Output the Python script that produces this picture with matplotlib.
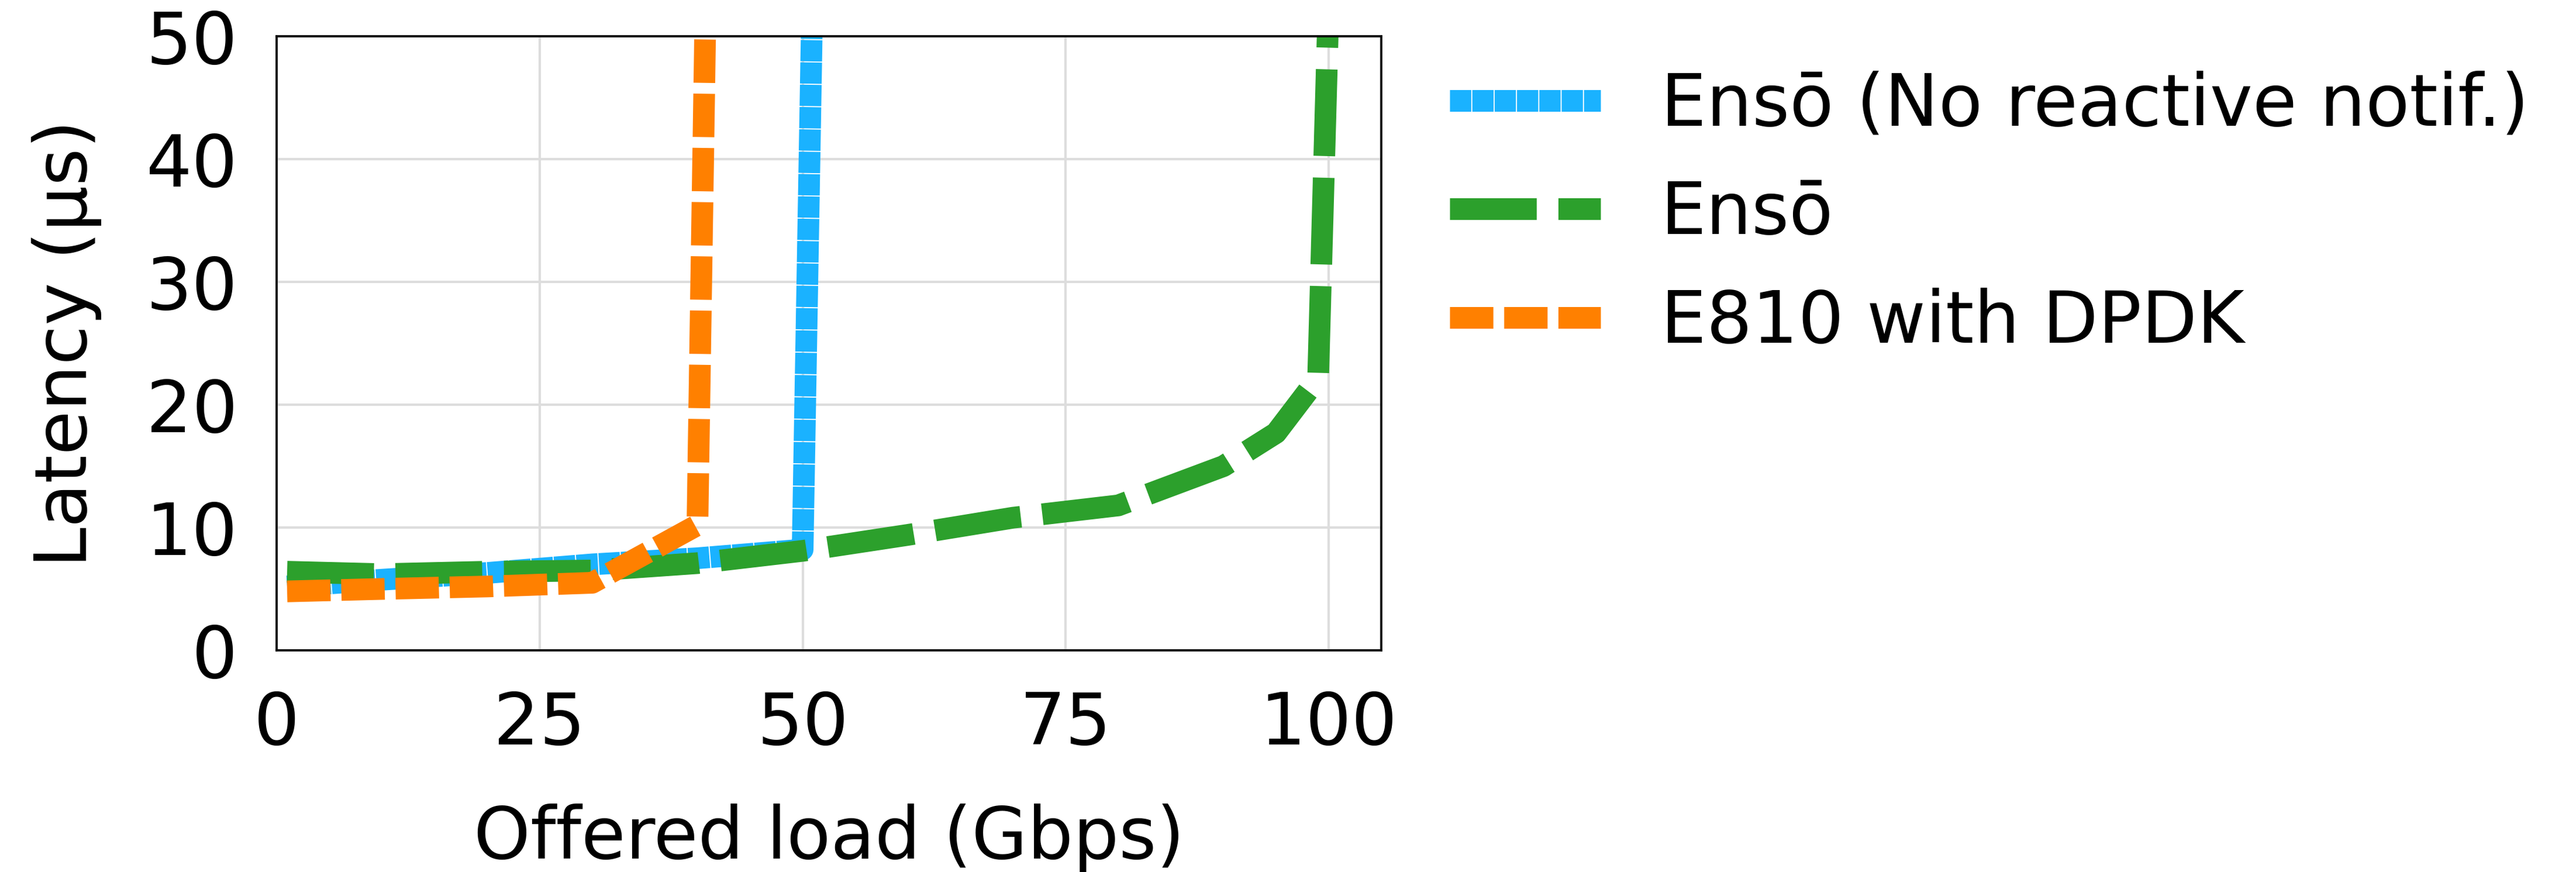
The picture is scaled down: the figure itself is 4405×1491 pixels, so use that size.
import matplotlib
matplotlib.use("Agg")
import matplotlib.pyplot as plt

# Offered load (Gbps) vs. latency (us) for each configuration
enso_noreact_load = [1, 10, 20, 30, 40, 50, 51]
enso_noreact_lat = [5.2, 5.75, 6.3, 7.0, 7.5, 8.2, 57]

enso_load = [1, 10, 20, 30, 40, 50, 60, 70, 80, 90, 95, 99, 100]
enso_lat = [6.4, 6.2, 6.4, 6.5, 7.1, 8.1, 9.4, 10.8, 11.8, 15.0, 17.7, 22.2, 53]

e810_load = [1, 10, 20, 30, 40, 41]
e810_lat = [4.8, 5.0, 5.2, 5.5, 10.2, 65]

series_labels = ["Ensō (No reactive notif.)", "Ensō", "E810 with DPDK"]
x_ticks = [0, 25, 50, 75, 100]
y_ticks = [0, 10, 20, 30, 40, 50]

W, H, DPI = 4405, 1491, 300
FS = 29.6
LW = 8.9

plt.rcParams["font.family"] = ["DejaVu Sans"]
fig = plt.figure(figsize=(W / DPI, H / DPI), dpi=DPI)
ax = fig.add_axes([473 / W, 1 - 1112 / H, (2362 - 473) / W, (1112 - 62) / H])

ax.plot(enso_noreact_load, enso_noreact_lat, color="#1ab2ff", lw=LW,
        linestyle=(0, (0.98, 0.05)), label=series_labels[0])
ax.plot(enso_load, enso_lat, color="#2ca02c", lw=LW,
        linestyle=(0, (4, 1)), label=series_labels[1])
ax.plot(e810_load, e810_lat, color="#ff8000", lw=LW,
        linestyle=(0, (2, 0.5)), label=series_labels[2])

ax.set_xlim(0, 105)
ax.set_ylim(0, 50)
ax.set_xticks(x_ticks)
ax.set_yticks(y_ticks)
ax.tick_params(axis="both", length=0, pad=16, labelsize=FS)
ax.grid(True, color="#dddddd", linewidth=1.0)
ax.set_axisbelow(True)
for sp in ax.spines.values():
    sp.set_color("black")
    sp.set_linewidth(0.9)

ax.set_xlabel("Offered load (Gbps)", fontsize=FS, labelpad=18)
ax.set_ylabel("Latency (µs)", fontsize=FS, labelpad=18)

ax.legend(loc="upper left", bbox_to_anchor=(2479 / W, 1 - 121 / H),
          bbox_transform=fig.transFigure, frameon=False, fontsize=FS,
          borderpad=0, borderaxespad=0, handlelength=2.09,
          handletextpad=0.84, labelspacing=0.53)

fig.savefig("out.png", dpi=DPI)
